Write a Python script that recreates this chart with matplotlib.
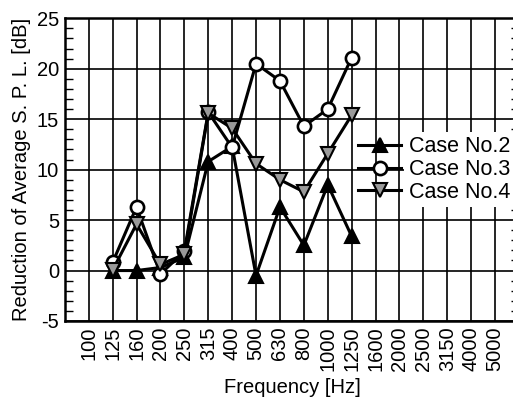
import matplotlib
matplotlib.use("Agg")
import matplotlib.pyplot as plt
from matplotlib.ticker import MultipleLocator

plt.rcParams['font.family'] = ['Liberation Sans', 'DejaVu Sans']
plt.rcParams['axes.unicode_minus'] = False

freq_labels = ["100", "125", "160", "200", "250", "315", "400", "500", "630",
               "800", "1000", "1250", "1600", "2000", "2500", "3150", "4000", "5000"]
data_freqs = ["125", "160", "200", "250", "315", "400", "500", "630", "800", "1000", "1250"]

case2 = [0.0, 0.0, 0.3, 1.3, 10.8, 12.3, -0.5, 6.3, 2.5, 8.5, 3.4]
case3 = [0.8, 6.3, -0.35, 1.9, 15.7, 12.2, 20.5, 18.8, 14.3, 16.0, 21.1]
case4 = [0.05, 4.6, 0.6, 1.6, 15.6, 14.1, 10.6, 9.0, 7.8, 11.6, 15.4]

fig = plt.figure(figsize=(5.13, 4.07), dpi=100)
ax = fig.add_axes([64.8 / 513, 86 / 407, (519 - 64.8) / 513, (388.7 - 86) / 407])

xpos = [freq_labels.index(f) for f in data_freqs]

lw = 2.2
ax.plot(xpos, case2, color='black', lw=lw, marker='^', markersize=9.5,
        markerfacecolor='black', markeredgecolor='black', markeredgewidth=1.5,
        label='Case No.2', zorder=3)
ax.plot(xpos, case3, color='black', lw=lw, marker='o', markersize=9.5,
        markerfacecolor='white', markeredgecolor='black', markeredgewidth=1.9,
        label='Case No.3', zorder=4)
ax.plot(xpos, case4, color='black', lw=lw, marker='v', markersize=9.5,
        markerfacecolor='#9a9a9a', markeredgecolor='black', markeredgewidth=1.5,
        label='Case No.4', zorder=5)

ax.set_xlim(-1, 18)
ax.set_ylim(-5, 25)
ax.set_xticks(range(len(freq_labels)))
ax.set_xticklabels(freq_labels, rotation=90, fontsize=14.5)
ax.yaxis.set_major_locator(MultipleLocator(5))
ax.yaxis.set_minor_locator(MultipleLocator(1))
ax.tick_params(axis='y', which='major', length=0, pad=4, labelsize=14.5)
ax.tick_params(axis='y', which='minor', direction='in', length=6, width=1.0,
               left=True, right=True)
ax.tick_params(axis='x', which='major', length=0, pad=4)

ax.grid(True, which='major', color='black', lw=1.2, zorder=1)
ax.set_axisbelow(True)
for s in ax.spines.values():
    s.set_linewidth(1.8)

ax.set_xlabel('Frequency [Hz]', fontsize=14.5, labelpad=5)
ax.set_ylabel('Reduction of Average S. P. L. [dB]', fontsize=14.5, labelpad=4)

leg = ax.legend(loc='center left', bbox_to_anchor=(0.6455, 0.5), frameon=False,
                fontsize=15.5, handlelength=2.0, handletextpad=0.35,
                labelspacing=0.08, borderpad=0, borderaxespad=0)
leg.set_zorder(10)
for t in leg.get_texts():
    t.set_bbox(dict(facecolor='white', edgecolor='none', pad=3))

fig.savefig('out.png', dpi=100)
